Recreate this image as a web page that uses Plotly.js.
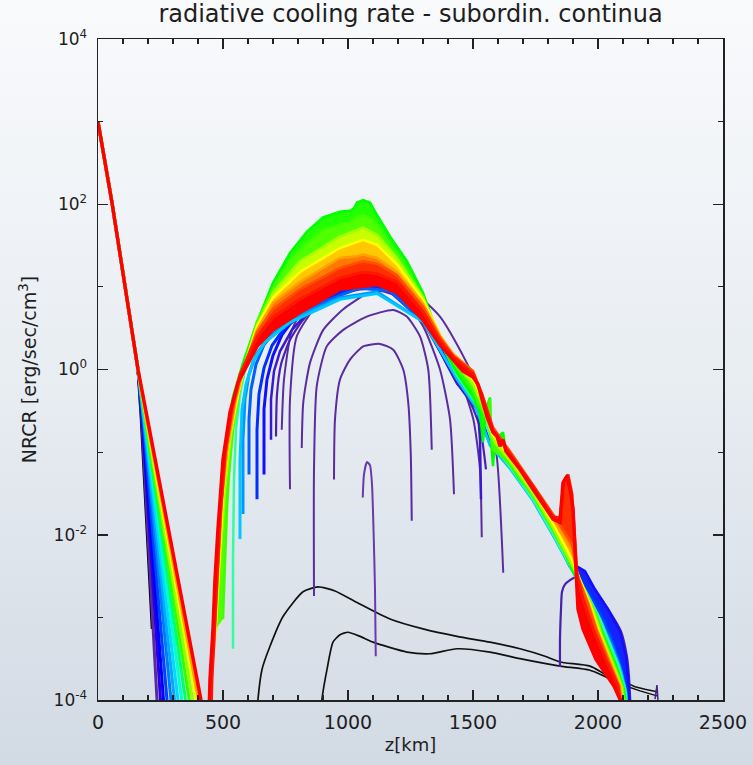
<!DOCTYPE html>
<html><head><meta charset="utf-8">
<script src="https://cdn.plot.ly/plotly-3.0.1.min.js"></script>
<style>
html,body{margin:0;padding:0;width:753px;height:765px;overflow:hidden;background:linear-gradient(to bottom,#f9fafc 0%,#e8edf2 50%,#d2dae4 100%);}
#chart{width:753px;height:765px;}
</style></head><body><div id="chart"></div>
<script>
// ---- left branch (shared top part, then fan) : z [km], log10(NRCR)
const branchZ = [0, 57, 160];
const branchV = [3.0, 2.0, 0.0];
const fanSplitV = -0.6;
const fanZMid = [173,175,177,178,180,182,183,185,187,188,190,192,194,195];
const fanZEnd = [217,236,250,262,276,292,306,320,335,350,365,378,392,402];
const fanVEnd = [-3.14,-4,-4,-4,-4,-4,-4,-4,-4,-4,-4,-4,-4,-4];
const fanColors = ['#000000','#5a2aa0','#2a00e0','#0000ff','#0040ff','#0078ff','#00a8ff','#00d8ff','#00ffd0','#00ff70','#30ff00','#90ff00','#e8ff00','#ffa000'];
const redBranchZ = [0, 57, 160, 412];
const redBranchV = [3.0, 2.0, 0.0, -4.0];

// ---- black curves
const k1Z = [636,640,656,688,740,820,880,948,1036,1168,1300,1436,1568,1688,1788,1848,1968,2036,2076,2092];
const k1V = [-4.2,-3.99,-3.63,-3.35,-2.99,-2.69,-2.63,-2.68,-2.82,-3.02,-3.14,-3.23,-3.30,-3.38,-3.47,-3.54,-3.59,-3.71,-3.87,-4.2];
const k2Z = [892,896,916,940,968,1000,1048,1100,1236,1328,1436,1568,1688,1848,1968,2048,2080,2100];
const k2V = [-4.2,-3.99,-3.63,-3.30,-3.21,-3.18,-3.23,-3.30,-3.42,-3.44,-3.38,-3.42,-3.50,-3.59,-3.64,-3.75,-3.87,-4.2];
const tailAZ = [2112,2148,2188,2236];
const tailAV = [-3.79,-3.84,-3.87,-3.90];
const tailBZ = [2120,2168,2236];
const tailBV = [-3.84,-3.89,-3.95];
const tailPZ = [2228,2236,2244];
const tailPV = [-3.99,-3.82,-4.2];

// ---- purple arcs
const arcAZ = [1059,1064,1076,1088,1096,1102,1108,1111];
const arcAV = [-1.55,-1.27,-1.12,-1.16,-1.39,-1.93,-2.66,-3.47];
const arcBZ = [944,948,968,1008,1061,1128,1181,1221,1241,1251,1255];
const arcBV = [-1.33,-0.60,-0.12,0.12,0.28,0.31,0.24,0.00,-0.40,-1.01,-1.83];
const arcCZ = [864,864,875,915,981,1075,1181,1235,1288,1321,1335];
const arcCV = [-2.74,-1.21,-0.20,0.28,0.48,0.64,0.72,0.64,0.40,0.00,-0.97];
const arcDZ = [815,821,848,901,981,1061,1128,1221,1301,1368,1408,1424];
const arcDV = [-0.95,-0.40,0.08,0.48,0.73,0.89,0.95,0.85,0.52,0.00,-0.60,-1.51];
const arcEZ = [768,768,795,875,968,1088,1208,1328,1435,1501,1528,1535];
const arcEV = [-1.45,-0.36,0.40,0.77,0.93,1.03,0.97,0.56,0.00,-0.60,-1.21,-2.03];
const arcFZ = [735,744,776,848,968,1088,1208,1368,1475,1555,1595,1621];
const arcFV = [-0.73,-0.12,0.48,0.85,1.03,1.11,1.06,0.64,0.08,-0.48,-1.05,-2.46];
const p7Z = [712,716,732,768,828,928,1048,1208,1300,1368,1436,1488,1528,1552];
const p7V = [-0.81,-0.30,0.06,0.36,0.63,0.85,0.97,0.92,0.58,0.22,-0.16,-0.39,-0.70,-1.21];
const pRightZ = [1848,1848,1852,1856,1868,1888,1912,1936,1984,2040,2092,2116,2124,2132];
const pRightV = [-3.60,-3.26,-2.90,-2.69,-2.60,-2.55,-2.51,-2.49,-2.66,-2.90,-3.17,-3.48,-3.72,-4.2];

// ---- blue curves
const b1Z = [692,692,704,728,776,888,1048,1168,1300,1368,1436,1488,1520,1528,1532];
const b1V = [-0.85,-0.36,-0.02,0.22,0.48,0.85,1.03,0.94,0.58,0.22,-0.17,-0.36,-0.51,-0.85,-1.57];
const b2Z = [664,664,676,700,736,788,888,1048,1168,1300,1368,1436,1508,1568,1648,1740,1820,1888,1920,1948,1988,2040,2088,2112,2120,2128];
const b2V = [-1.27,-0.48,-0.12,0.17,0.42,0.63,0.85,1.04,1.00,0.63,0.27,-0.08,-0.40,-0.88,-1.16,-1.55,-1.97,-2.38,-2.39,-2.44,-2.66,-2.90,-3.17,-3.47,-3.71,-4.2];
const b3Z = [636,636,644,664,696,748,888,1048,1168,1300,1368,1436,1508,1568,1648,1740,1820,1888,1936,1984,2032,2072,2096,2112,2120];
const b3V = [-1.57,-0.73,-0.30,0.02,0.29,0.51,0.82,1.02,0.98,0.60,0.25,-0.09,-0.41,-0.89,-1.17,-1.56,-1.98,-2.39,-2.51,-2.76,-3.02,-3.32,-3.57,-3.81,-4.2];
const b4Z = [604,604,612,632,664,720,888,1048,1168,1300,1368,1436,1508,1568,1648,1740,1820,1896,1952,2000,2048,2084,2108,2116];
const b4V = [-1.27,-0.60,-0.24,0.06,0.30,0.51,0.80,0.99,0.95,0.58,0.24,-0.10,-0.42,-0.90,-1.18,-1.57,-1.99,-2.41,-2.68,-2.96,-3.26,-3.53,-3.84,-4.2];
const b5Z = [580,580,588,604,632,688,808,968,1116,1300,1368,1436,1508,1568,1648,1740,1820,1896,1960,2008,2056,2088,2112,2120];
const b5V = [-1.75,-0.85,-0.36,-0.06,0.18,0.42,0.66,0.87,0.94,0.58,0.24,-0.11,-0.43,-0.91,-1.19,-1.58,-2.00,-2.42,-2.74,-3.02,-3.34,-3.60,-3.89,-4.2];
const c1Z = [568,568,576,592,620,668,768,968,1116,1300,1368,1436,1508,1568,1648,1740,1820,1896,1964,2012,2056,2092,2112,2120];
const c1V = [-2.05,-1.09,-0.48,-0.18,0.10,0.33,0.57,0.85,0.92,0.58,0.24,-0.12,-0.44,-0.92,-1.20,-1.59,-2.01,-2.43,-2.78,-3.08,-3.38,-3.65,-3.92,-4.2];
const gcZ = [540,540,544,552,568,592,636,700,768,836,900,968,1036,1060,1116,1196,1300,1368,1436,1500,1540,1580,1648,1740,1820,1896,1952,2008,2044,2080,2108,2120];
const gcV = [-3.38,-2.30,-1.33,-0.73,-0.30,0.06,0.53,0.95,1.27,1.49,1.64,1.69,1.74,1.76,1.68,1.37,0.88,0.34,-0.07,-0.36,-0.54,-0.91,-1.18,-1.57,-1.99,-2.42,-2.69,-3.02,-3.30,-3.57,-3.87,-4.2];

// ---- rainbow band (green on top -> red at bottom of the hump)
const g1Z = [492,500,504,512,520,540,580,636,700,768,836,900,968,1008,1024,1036,1060,1088,1116,1168,1236,1300,1368,1436,1500,1528,1540,1552,1568,1572,1580,1588,1620,1636,1688,1740,1820,1868,1896,1948,2000,2036,2072,2104,2116];
const g1V = [-2.90,-2.30,-1.81,-1.27,-0.73,-0.33,0.08,0.57,1.05,1.41,1.67,1.84,1.91,1.92,1.95,2.02,2.05,2.02,1.87,1.61,1.31,0.93,0.34,-0.04,-0.33,-0.52,-0.88,-0.48,-0.34,-0.85,-1.17,-0.85,-0.76,-1.09,-1.33,-1.51,-1.93,-2.21,-2.42,-2.74,-3.05,-3.32,-3.58,-3.87,-4.2];
const g2Z = [500,508,516,524,540,568,600,636,700,768,836,900,968,1008,1036,1060,1088,1116,1168,1196,1300,1368,1436,1500,1528,1552,1568,1572,1580,1608,1648,1740,1820,1896,1944,1992,2024,2064,2100,2112];
const g2V = [-3.02,-2.30,-1.69,-1.27,-0.73,-0.22,0.22,0.58,0.98,1.31,1.53,1.69,1.75,1.79,1.84,1.87,1.84,1.75,1.51,1.40,0.89,0.37,0.02,-0.24,-0.46,-0.56,-0.36,-0.82,-0.97,-1.03,-1.15,-1.53,-1.95,-2.39,-2.66,-2.96,-3.26,-3.55,-3.85,-4.2];
const ygZ = [472,484,508,532,564,596,636,700,808,968,1036,1060,1116,1196,1300,1368,1436,1500,1536,1580,1648,1740,1820,1896,1936,1980,2012,2056,2096,2108];
const ygV = [-3.14,-2.48,-1.45,-0.79,-0.27,0.15,0.54,0.93,1.31,1.61,1.69,1.72,1.63,1.35,0.87,0.40,0.06,-0.18,-0.42,-0.85,-1.11,-1.50,-1.91,-2.36,-2.60,-2.90,-3.20,-3.53,-3.84,-4.2];
const yZ = [468,480,500,524,560,592,636,700,808,968,1036,1060,1116,1196,1300,1368,1420,1500,1536,1580,1648,1740,1820,1896,1928,1968,2000,2048,2088,2104];
const yV = [-3.26,-2.54,-1.51,-0.85,-0.30,0.10,0.52,0.87,1.18,1.47,1.55,1.57,1.51,1.27,0.85,0.42,0.17,-0.10,-0.36,-0.79,-1.06,-1.45,-1.86,-2.30,-2.54,-2.84,-3.14,-3.51,-3.83,-4.2];
const oZ = [464,476,496,520,552,584,636,700,808,968,1036,1060,1116,1196,1300,1368,1420,1500,1536,1580,1648,1740,1820,1896,1924,1964,1996,2044,2088,2104];
const oV = [-3.38,-2.66,-1.57,-0.91,-0.36,0.02,0.48,0.81,1.06,1.35,1.37,1.39,1.35,1.18,0.80,0.41,0.19,-0.02,-0.30,-0.73,-1.03,-1.43,-1.81,-2.21,-2.54,-2.84,-3.14,-3.51,-3.83,-4.2];
const roZ = [460,472,492,512,544,576,636,700,808,968,1060,1116,1196,1300,1368,1420,1500,1536,1580,1648,1740,1820,1896,1920,1960,1992,2040,2084,2100];
const roV = [-3.50,-2.78,-1.69,-0.97,-0.42,-0.02,0.45,0.73,0.97,1.23,1.31,1.28,1.14,0.76,0.39,0.17,-0.02,-0.29,-0.70,-0.99,-1.39,-1.75,-2.11,-2.51,-2.84,-3.14,-3.51,-3.83,-4.2];
const r1Z = [452,456,468,488,508,536,568,636,700,808,968,1060,1116,1196,1300,1368,1420,1500,1536,1580,1648,1740,1820,1848,1864,1880,1896,1908,1916,1940,1980,2032,2080,2096];
const r1V = [-4.2,-3.75,-3.02,-1.81,-1.03,-0.46,-0.06,0.39,0.63,0.85,1.11,1.18,1.16,1.06,0.70,0.35,0.16,-0.05,-0.31,-0.73,-1.02,-1.41,-1.78,-1.80,-1.35,-1.27,-1.51,-2.05,-2.48,-2.78,-3.14,-3.51,-3.83,-4.2];
const r2Z = [444,448,460,468,480,500,528,560,636,700,808,968,1116,1196,1300,1368,1420,1460,1500,1520,1536,1556,1580,1596,1608,1620,1632,1648,1688,1740,1820,1848,1860,1876,1888,1900,1908,1912,1920,1940,1992,2064,2088,2096];
const r2V = [-4.2,-3.75,-3.14,-2.54,-1.93,-1.09,-0.52,-0.16,0.28,0.48,0.69,0.97,1.03,0.93,0.60,0.30,0.12,-0.02,-0.09,-0.18,-0.36,-0.57,-0.76,-0.81,-0.93,-0.85,-0.99,-1.05,-1.21,-1.45,-1.81,-1.85,-1.37,-1.29,-1.45,-1.69,-2.18,-2.48,-2.90,-3.14,-3.51,-3.83,-3.99,-4.2];

// ---- axis ticks
const xMajorStep = 500;
const xMinorStep = 100;
const yMajorVals = [1e-4, 1e-2, 1, 1e2, 1e4];
const yMajorText = ['10<sup>-4</sup>', '10<sup>-2</sup>', '10<sup>0</sup>', '10<sup>2</sup>', '10<sup>4</sup>'];
const yMinorVals = [1e-3, 1e-1, 1e1, 1e3];

const traces = [];
function p10(a){ return a.map(v => Math.pow(10, v)); }
function addLine(z, v, color, width, extra){
  const t = {type:'scatter', mode:'lines', x:z, y:p10(v), line:{color:color, width:width},
             hoverinfo:'skip', showlegend:false};
  if (extra && extra.spline) { t.line.shape = 'spline'; t.line.smoothing = 0.6; }
  if (extra && extra.fill) { t.fill = 'tonexty'; t.fillcolor = extra.fill; }
  traces.push(t);
}
// split a curve at a z value: part below (hump legs) and part from it onward (tail)
function head(z, v, zCut){ const n = z.findIndex(e => e >= zCut); return [z.slice(0, n + 1), v.slice(0, n + 1)]; }
function tail(z, v, zCut){ const n = z.findIndex(e => e >= zCut); return [z.slice(n), v.slice(n)]; }

// left fan
for (let i = 0; i < fanZMid.length; i++) {
  addLine(branchZ.concat([fanZMid[i], fanZEnd[i]]), branchV.concat([fanSplitV, fanVEnd[i]]), fanColors[i], 3);
}
// black
addLine(k1Z, k1V, '#111111', 1.7, {spline:true});
addLine(k2Z, k2V, '#111111', 1.7, {spline:true});
addLine(tailAZ, tailAV, '#111111', 1.5);
addLine(tailBZ, tailBV, '#111111', 1.5);
addLine(tailPZ, tailPV, '#4a1f80', 1.5);
// purple
const arcColor = '#5a2ca0';
addLine(arcAZ, arcAV, '#6a3aa8', 2, {spline:true});
addLine(arcBZ, arcBV, arcColor, 2, {spline:true});
addLine(arcCZ, arcCV, arcColor, 2, {spline:true});
addLine(arcDZ, arcDV, arcColor, 2, {spline:true});
addLine(arcEZ, arcEV, arcColor, 2, {spline:true});
addLine(arcFZ, arcFV, arcColor, 2, {spline:true});
addLine(p7Z, p7V, '#4b22b0', 2.2, {spline:true});
addLine(pRightZ, pRightV, '#4a1fb0', 2.2, {spline:true});
// blue: hump parts as plain lines
addLine(b1Z, b1V, '#3a1ad0', 2.5);
const blueSet = [[b2Z,b2V,'#1010ff','#1010ff'],[b3Z,b3V,'#0030ff','#1a20ff'],[b4Z,b4V,'#0060ff','#0044ff'],
                 [b5Z,b5V,'#0098ff','#0078ff'],[c1Z,c1V,'#00c8ff','#00b0ff']];
const cutZ = 1300;
blueSet.forEach(s => { const h = head(s[0], s[1], cutZ); addLine(h[0], h[1], s[2], 3); });
// blue: descending/tail parts, filled between neighbours
blueSet.forEach((s, i) => { const t = tail(s[0], s[1], cutZ); addLine(t[0], t[1], s[2], 2.5, i > 0 ? {fill:s[3]} : null); });
addLine(gcZ, gcV, '#30ffa0', 2.5);
// rainbow band
addLine(g1Z, g1V, '#00ff00', 2.5);
addLine(g2Z, g2V, '#40ff00', 2.5, {fill:'#22ff00'});
addLine(ygZ, ygV, '#a0ff00', 2.5, {fill:'#50ff00'});
addLine(yZ, yV, '#ffff00', 2.5, {fill:'#c8ff00'});
addLine(oZ, oV, '#ffa000', 2.5, {fill:'#ffc800'});
addLine(roZ, roV, '#ff5000', 2.5, {fill:'#ff7a00'});
addLine(r1Z, r1V, '#ff1800', 3, {fill:'#ff3000'});
addLine(r2Z, r2V, '#ff0000', 3.5, {fill:'#ff0000'});
// red left branch on top
addLine(redBranchZ, redBranchV, '#ff0000', 3.5);
// empty trace carrying the minor-tick axes
traces.push({type:'scatter', mode:'lines', x:[null], y:[null], xaxis:'x2', yaxis:'y2', hoverinfo:'skip', showlegend:false});

const axisCol = '#222222';
const layout = {
  width:753, height:765,
  margin:{l:98, r:30, t:39, b:65},
  paper_bgcolor:'rgba(0,0,0,0)', plot_bgcolor:'rgba(0,0,0,0)',
  font:{family:'DejaVu Sans, sans-serif', color:'#1e1e1e', size:16},
  showlegend:false,
  title:{text:'radiative cooling rate - subordin. continua', x:0.5, xref:'paper', xanchor:'center',
         y:0.982, yref:'container', yanchor:'middle', font:{size:24, color:'#1e1e1e'}},
  xaxis:{range:[0,2500], dtick:xMajorStep, tick0:0, ticks:'inside', ticklen:10, tickwidth:1.5, tickcolor:axisCol,
         showline:true, linecolor:axisCol, linewidth:1.5, mirror:'ticks', showgrid:false, zeroline:false,
         ticklabelstandoff:5, tickfont:{size:19}, title:{text:'z[km]', font:{size:18}, standoff:6}},
  yaxis:{type:'log', range:[-4,4], tickmode:'array', tickvals:yMajorVals, ticktext:yMajorText,
         ticks:'inside', ticklen:10, tickwidth:1.5,
         tickcolor:axisCol, showline:true, linecolor:axisCol, linewidth:1.5, mirror:'ticks', showgrid:false,
         zeroline:false, ticklabelstandoff:6, tickfont:{size:17},
         title:{text:'NRCR [erg/sec/cm<sup>3</sup>]', font:{size:19}, standoff:12}},
  xaxis2:{range:[0,2500], overlaying:'x', anchor:'y2', side:'bottom', dtick:xMinorStep, tick0:0, ticks:'inside',
          ticklen:5, tickwidth:1.2, tickcolor:axisCol, showticklabels:false, mirror:'ticks', showline:false,
          showgrid:false, zeroline:false},
  yaxis2:{type:'log', range:[-4,4], overlaying:'y', anchor:'x2', side:'left', tickmode:'array', tickvals:yMinorVals,
          ticks:'inside', ticklen:5, tickwidth:1.2, tickcolor:axisCol, showticklabels:false, mirror:'ticks',
          showline:false, showgrid:false, zeroline:false}
};
Plotly.newPlot('chart', traces, layout, {displayModeBar:false, staticPlot:true});
</script></body></html>
